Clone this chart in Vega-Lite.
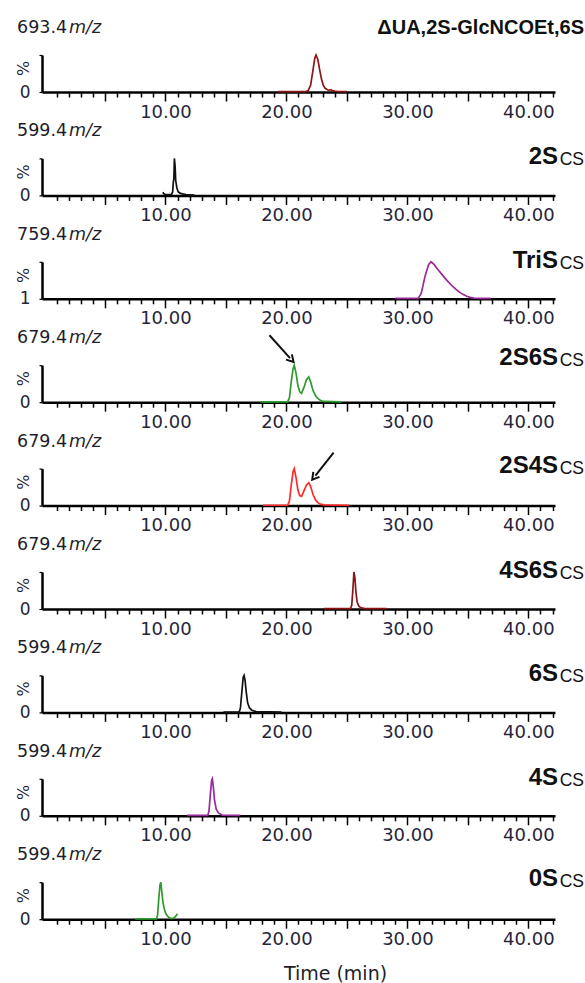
{
 "$schema": "https://vega.github.io/schema/vega-lite/v6.json",
 "padding": {"left": 15, "top": 17, "right": 0, "bottom": 0},
 "background": "white",
 "bounds": "flush",
 "spacing": 66.4,
 "datasets": {
  "p1": [{"t":19.3,"i":1},{"t":21.6,"i":1},{"t":21.8,"i":4},{"t":22.0,"i":18},{"t":22.2,"i":60},{"t":22.35,"i":92},{"t":22.45,"i":100},{"t":22.6,"i":88},{"t":22.75,"i":60},{"t":22.9,"i":35},{"t":23.05,"i":18},{"t":23.2,"i":10},{"t":23.4,"i":6},{"t":23.55,"i":5},{"t":23.7,"i":6},{"t":23.85,"i":3},{"t":24.1,"i":2},{"t":24.3,"i":1},{"t":25.0,"i":1}],
  "p2": [{"t":9.8,"i":9},{"t":9.85,"i":5},{"t":9.95,"i":3},{"t":10.5,"i":2},{"t":10.6,"i":10},{"t":10.65,"i":35},{"t":10.7,"i":45},{"t":10.74,"i":100},{"t":10.8,"i":80},{"t":10.85,"i":40},{"t":10.95,"i":20},{"t":11.05,"i":10},{"t":11.2,"i":6},{"t":11.4,"i":4},{"t":11.7,"i":2},{"t":12.4,"i":1}],
  "p3": [{"t":29.0,"i":1},{"t":30.9,"i":1},{"t":31.15,"i":15},{"t":31.45,"i":60},{"t":31.75,"i":92},{"t":31.95,"i":100},{"t":32.2,"i":93},{"t":32.5,"i":80},{"t":32.8,"i":68},{"t":33.1,"i":56},{"t":33.4,"i":45},{"t":33.7,"i":35},{"t":34.0,"i":26},{"t":34.3,"i":18},{"t":34.6,"i":12},{"t":34.9,"i":7},{"t":35.2,"i":4},{"t":35.5,"i":2},{"t":36.0,"i":1},{"t":36.9,"i":1}],
  "p4": [{"t":17.85,"i":1},{"t":20.1,"i":1},{"t":20.25,"i":12},{"t":20.4,"i":55},{"t":20.55,"i":90},{"t":20.65,"i":100},{"t":20.8,"i":78},{"t":20.95,"i":45},{"t":21.1,"i":28},{"t":21.25,"i":24},{"t":21.45,"i":40},{"t":21.65,"i":60},{"t":21.85,"i":68},{"t":22.0,"i":55},{"t":22.2,"i":32},{"t":22.4,"i":18},{"t":22.6,"i":10},{"t":22.8,"i":5},{"t":23.1,"i":2},{"t":24.57,"i":1}],
  "p5": [{"t":18.07,"i":1},{"t":20.1,"i":1},{"t":20.25,"i":12},{"t":20.4,"i":55},{"t":20.55,"i":92},{"t":20.65,"i":100},{"t":20.8,"i":75},{"t":20.95,"i":42},{"t":21.1,"i":27},{"t":21.25,"i":25},{"t":21.45,"i":40},{"t":21.65,"i":55},{"t":21.85,"i":62},{"t":22.0,"i":52},{"t":22.2,"i":30},{"t":22.4,"i":16},{"t":22.6,"i":8},{"t":22.8,"i":4},{"t":23.1,"i":2},{"t":25.2,"i":1}],
  "p6": [{"t":23.1,"i":1},{"t":25.3,"i":1},{"t":25.4,"i":10},{"t":25.5,"i":55},{"t":25.58,"i":100},{"t":25.66,"i":85},{"t":25.75,"i":45},{"t":25.85,"i":18},{"t":26.0,"i":7},{"t":26.2,"i":3},{"t":26.5,"i":1},{"t":28.3,"i":1}],
  "p7": [{"t":14.8,"i":1},{"t":16.1,"i":1},{"t":16.2,"i":12},{"t":16.33,"i":60},{"t":16.43,"i":95},{"t":16.5,"i":100},{"t":16.58,"i":88},{"t":16.68,"i":55},{"t":16.8,"i":25},{"t":16.95,"i":12},{"t":17.15,"i":6},{"t":17.5,"i":2},{"t":19.6,"i":1}],
  "p8": [{"t":11.8,"i":1},{"t":13.5,"i":1},{"t":13.6,"i":12},{"t":13.72,"i":60},{"t":13.82,"i":96},{"t":13.88,"i":100},{"t":13.96,"i":78},{"t":14.06,"i":42},{"t":14.2,"i":18},{"t":14.4,"i":7},{"t":14.7,"i":2},{"t":16.2,"i":1}],
  "p9": [{"t":7.5,"i":1},{"t":9.25,"i":1},{"t":9.35,"i":10},{"t":9.45,"i":55},{"t":9.55,"i":92},{"t":9.62,"i":100},{"t":9.7,"i":75},{"t":9.8,"i":45},{"t":9.9,"i":28},{"t":10.05,"i":14},{"t":10.25,"i":6},{"t":10.45,"i":2},{"t":10.65,"i":2},{"t":10.8,"i":6},{"t":11.0,"i":15}],
  "labels": [
   {"panel":1,"mz":"693.4","unit":"m/z","name":"ΔUA,2S-GlcNCOEt,6S","sub":""},
   {"panel":2,"mz":"599.4","unit":"m/z","name":"2S","sub":"CS"},
   {"panel":3,"mz":"759.4","unit":"m/z","name":"TriS","sub":"CS"},
   {"panel":4,"mz":"679.4","unit":"m/z","name":"2S6S","sub":"CS"},
   {"panel":5,"mz":"679.4","unit":"m/z","name":"2S4S","sub":"CS"},
   {"panel":6,"mz":"679.4","unit":"m/z","name":"4S6S","sub":"CS"},
   {"panel":7,"mz":"599.4","unit":"m/z","name":"6S","sub":"CS"},
   {"panel":8,"mz":"599.4","unit":"m/z","name":"4S","sub":"CS"},
   {"panel":9,"mz":"599.4","unit":"m/z","name":"0S","sub":"CS"}
  ],
  "arrows": [
   {"panel":4,"t1":18.6,"y1":181,"t2":20.3,"y2":119},
   {"panel":5,"t1":23.9,"y1":143,"t2":22.4,"y2":81}
  ]
 },
 "vconcat": [
  {"width": 513, "height": 37, "resolve": {"axis": {"x": "independent"}}, "layer": [
   {"data": {"name": "p1"}, "mark": {"type": "line", "color": "#8c1515", "strokeWidth": 1.7},
    "encoding": {
     "x": {"field": "t", "type": "quantitative", "scale": {"domain": [-0.2, 42.2], "nice": false, "zero": false},
      "axis": {"orient": "bottom", "values": [5,10,15,20,25,30,35,40], "tickSize": 9, "labelExpr": "datum.value % 10 === 0 ? format(datum.value, '.2f') : ''", "title": null}},
     "y": {"field": "i", "type": "quantitative", "scale": {"domain": [0, 100], "nice": false},
      "axis": {"values": [0,12.5,25,37.5,50,62.5,75,87.5,100], "labelExpr": "datum.value === 0 ? '0' : ''", "title": "%"}}}},
   {"data": {"name": "labels"}, "transform": [{"filter": "datum.panel === 1"}],
    "encoding": {"x": {"datum": -0.2, "type": "quantitative", "axis": {"orient": "bottom", "values": [1,2,3,4,6,7,8,9,11,12,13,14,16,17,18,19,21,22,23,24,26,27,28,29,31,32,33,34,36,37,38,39,41,42], "tickSize": 5, "labels": false, "domain": false, "title": null}}, "y": {"datum": 173}},
    "layer": [
     {"mark": {"type": "text", "align": "left", "baseline": "middle", "dx": -25, "font": "DejaVu Sans", "fontSize": 17.5, "color": "#1e1e2a"}, "encoding": {"text": {"field": "mz"}}},
     {"mark": {"type": "text", "align": "left", "baseline": "middle", "dx": 27, "font": "DejaVu Sans", "fontStyle": "italic", "fontSize": 17.5, "color": "#1e1e2a"}, "encoding": {"text": {"field": "unit"}}}
    ]},
   {"data": {"name": "labels"}, "transform": [{"filter": "datum.panel === 1"}],
    "mark": {"type": "text", "align": "right", "baseline": "middle", "dx": 29, "font": "Liberation Sans", "fontWeight": "bold", "fontSize": 20, "color": "#111"},
    "encoding": {"x": {"datum": 42.2, "type": "quantitative", "axis": null}, "y": {"datum": 173}, "text": {"field": "name"}}}
  ]},
  {"width": 513, "height": 37, "resolve": {"axis": {"x": "independent"}}, "layer": [
   {"data": {"name": "p2"}, "mark": {"type": "line", "color": "#111111", "strokeWidth": 1.7},
    "encoding": {
     "x": {"field": "t", "type": "quantitative", "scale": {"domain": [-0.2, 42.2], "nice": false, "zero": false},
      "axis": {"orient": "bottom", "values": [5,10,15,20,25,30,35,40], "tickSize": 9, "labelExpr": "datum.value % 10 === 0 ? format(datum.value, '.2f') : ''", "title": null}},
     "y": {"field": "i", "type": "quantitative", "scale": {"domain": [0, 100], "nice": false},
      "axis": {"values": [0,12.5,25,37.5,50,62.5,75,87.5,100], "labelExpr": "datum.value === 0 ? '0' : ''", "title": "%"}}}},
   {"data": {"name": "labels"}, "transform": [{"filter": "datum.panel === 2"}],
    "encoding": {"x": {"datum": -0.2, "type": "quantitative", "axis": {"orient": "bottom", "values": [1,2,3,4,6,7,8,9,11,12,13,14,16,17,18,19,21,22,23,24,26,27,28,29,31,32,33,34,36,37,38,39,41,42], "tickSize": 5, "labels": false, "domain": false, "title": null}}, "y": {"datum": 173}},
    "layer": [
     {"mark": {"type": "text", "align": "left", "baseline": "middle", "dx": -25, "font": "DejaVu Sans", "fontSize": 17.5, "color": "#1e1e2a"}, "encoding": {"text": {"field": "mz"}}},
     {"mark": {"type": "text", "align": "left", "baseline": "middle", "dx": 27, "font": "DejaVu Sans", "fontStyle": "italic", "fontSize": 17.5, "color": "#1e1e2a"}, "encoding": {"text": {"field": "unit"}}}
    ]},
   {"data": {"name": "labels"}, "transform": [{"filter": "datum.panel === 2"}],
    "encoding": {"x": {"datum": 42.2, "type": "quantitative", "axis": null}, "y": {"datum": 84}},
    "layer": [
     {"mark": {"type": "text", "align": "right", "baseline": "alphabetic", "dx": 3, "font": "Liberation Sans Narrow, Liberation Sans", "fontWeight": "bold", "fontSize": 24, "color": "#111"}, "encoding": {"text": {"field": "name"}}},
     {"mark": {"type": "text", "align": "right", "baseline": "alphabetic", "dx": 29, "dy": 1, "font": "Liberation Sans", "fontSize": 17.5, "color": "#111"}, "encoding": {"text": {"field": "sub"}}}
    ]}
  ]},
  {"width": 513, "height": 37, "resolve": {"axis": {"x": "independent"}}, "layer": [
   {"data": {"name": "p3"}, "mark": {"type": "line", "color": "#9a2a9a", "strokeWidth": 1.7},
    "encoding": {
     "x": {"field": "t", "type": "quantitative", "scale": {"domain": [-0.2, 42.2], "nice": false, "zero": false},
      "axis": {"orient": "bottom", "values": [5,10,15,20,25,30,35,40], "tickSize": 9, "labelExpr": "datum.value % 10 === 0 ? format(datum.value, '.2f') : ''", "title": null}},
     "y": {"field": "i", "type": "quantitative", "scale": {"domain": [0, 100], "nice": false},
      "axis": {"values": [0,12.5,25,37.5,50,62.5,75,87.5,100], "labelExpr": "datum.value === 0 ? '1' : ''", "title": "%"}}}},
   {"data": {"name": "labels"}, "transform": [{"filter": "datum.panel === 3"}],
    "encoding": {"x": {"datum": -0.2, "type": "quantitative", "axis": {"orient": "bottom", "values": [1,2,3,4,6,7,8,9,11,12,13,14,16,17,18,19,21,22,23,24,26,27,28,29,31,32,33,34,36,37,38,39,41,42], "tickSize": 5, "labels": false, "domain": false, "title": null}}, "y": {"datum": 173}},
    "layer": [
     {"mark": {"type": "text", "align": "left", "baseline": "middle", "dx": -25, "font": "DejaVu Sans", "fontSize": 17.5, "color": "#1e1e2a"}, "encoding": {"text": {"field": "mz"}}},
     {"mark": {"type": "text", "align": "left", "baseline": "middle", "dx": 27, "font": "DejaVu Sans", "fontStyle": "italic", "fontSize": 17.5, "color": "#1e1e2a"}, "encoding": {"text": {"field": "unit"}}}
    ]},
   {"data": {"name": "labels"}, "transform": [{"filter": "datum.panel === 3"}],
    "encoding": {"x": {"datum": 42.2, "type": "quantitative", "axis": null}, "y": {"datum": 84}},
    "layer": [
     {"mark": {"type": "text", "align": "right", "baseline": "alphabetic", "dx": 3, "font": "Liberation Sans Narrow, Liberation Sans", "fontWeight": "bold", "fontSize": 24, "color": "#111"}, "encoding": {"text": {"field": "name"}}},
     {"mark": {"type": "text", "align": "right", "baseline": "alphabetic", "dx": 29, "dy": 1, "font": "Liberation Sans", "fontSize": 17.5, "color": "#111"}, "encoding": {"text": {"field": "sub"}}}
    ]}
  ]},
  {"width": 513, "height": 37, "resolve": {"axis": {"x": "independent"}}, "layer": [
   {"data": {"name": "p4"}, "mark": {"type": "line", "color": "#2f9a2f", "strokeWidth": 1.7},
    "encoding": {
     "x": {"field": "t", "type": "quantitative", "scale": {"domain": [-0.2, 42.2], "nice": false, "zero": false},
      "axis": {"orient": "bottom", "values": [5,10,15,20,25,30,35,40], "tickSize": 9, "labelExpr": "datum.value % 10 === 0 ? format(datum.value, '.2f') : ''", "title": null}},
     "y": {"field": "i", "type": "quantitative", "scale": {"domain": [0, 100], "nice": false},
      "axis": {"values": [0,12.5,25,37.5,50,62.5,75,87.5,100], "labelExpr": "datum.value === 0 ? '0' : ''", "title": "%"}}}},
   {"data": {"name": "arrows"}, "transform": [{"filter": "datum.panel === 4"}],
    "mark": {"type": "rule", "color": "#111", "strokeWidth": 2},
    "encoding": {"x": {"field": "t1", "type": "quantitative", "axis": null}, "y": {"field": "y1", "type": "quantitative"}, "x2": {"field": "t2"}, "y2": {"field": "y2"}}},
   {"data": {"name": "arrows"}, "transform": [{"filter": "datum.panel === 4"}],
    "mark": {"type": "point", "shape": "M -0.75 0.3 L 0 -1 L 0.75 0.3", "filled": false, "stroke": "#111", "strokeWidth": 2, "size": 110, "angle": 138, "opacity": 1},
    "encoding": {"x": {"field": "t2", "type": "quantitative", "axis": null}, "y": {"field": "y2", "type": "quantitative"}}},
   {"data": {"name": "labels"}, "transform": [{"filter": "datum.panel === 4"}],
    "encoding": {"x": {"datum": -0.2, "type": "quantitative", "axis": {"orient": "bottom", "values": [1,2,3,4,6,7,8,9,11,12,13,14,16,17,18,19,21,22,23,24,26,27,28,29,31,32,33,34,36,37,38,39,41,42], "tickSize": 5, "labels": false, "domain": false, "title": null}}, "y": {"datum": 173}},
    "layer": [
     {"mark": {"type": "text", "align": "left", "baseline": "middle", "dx": -25, "font": "DejaVu Sans", "fontSize": 17.5, "color": "#1e1e2a"}, "encoding": {"text": {"field": "mz"}}},
     {"mark": {"type": "text", "align": "left", "baseline": "middle", "dx": 27, "font": "DejaVu Sans", "fontStyle": "italic", "fontSize": 17.5, "color": "#1e1e2a"}, "encoding": {"text": {"field": "unit"}}}
    ]},
   {"data": {"name": "labels"}, "transform": [{"filter": "datum.panel === 4"}],
    "encoding": {"x": {"datum": 42.2, "type": "quantitative", "axis": null}, "y": {"datum": 100}},
    "layer": [
     {"mark": {"type": "text", "align": "right", "baseline": "alphabetic", "dx": 3, "font": "Liberation Sans Narrow, Liberation Sans", "fontWeight": "bold", "fontSize": 24, "color": "#111"}, "encoding": {"text": {"field": "name"}}},
     {"mark": {"type": "text", "align": "right", "baseline": "alphabetic", "dx": 29, "dy": 1, "font": "Liberation Sans", "fontSize": 17.5, "color": "#111"}, "encoding": {"text": {"field": "sub"}}}
    ]}
  ]},
  {"width": 513, "height": 37, "resolve": {"axis": {"x": "independent"}}, "layer": [
   {"data": {"name": "p5"}, "mark": {"type": "line", "color": "#ff2a2a", "strokeWidth": 1.7},
    "encoding": {
     "x": {"field": "t", "type": "quantitative", "scale": {"domain": [-0.2, 42.2], "nice": false, "zero": false},
      "axis": {"orient": "bottom", "values": [5,10,15,20,25,30,35,40], "tickSize": 9, "labelExpr": "datum.value % 10 === 0 ? format(datum.value, '.2f') : ''", "title": null}},
     "y": {"field": "i", "type": "quantitative", "scale": {"domain": [0, 100], "nice": false},
      "axis": {"values": [0,12.5,25,37.5,50,62.5,75,87.5,100], "labelExpr": "datum.value === 0 ? '0' : ''", "title": "%"}}}},
   {"data": {"name": "arrows"}, "transform": [{"filter": "datum.panel === 5"}],
    "mark": {"type": "rule", "color": "#111", "strokeWidth": 2},
    "encoding": {"x": {"field": "t1", "type": "quantitative", "axis": null}, "y": {"field": "y1", "type": "quantitative"}, "x2": {"field": "t2"}, "y2": {"field": "y2"}}},
   {"data": {"name": "arrows"}, "transform": [{"filter": "datum.panel === 5"}],
    "mark": {"type": "point", "shape": "M -0.75 0.3 L 0 -1 L 0.75 0.3", "filled": false, "stroke": "#111", "strokeWidth": 2, "size": 110, "angle": 218, "opacity": 1},
    "encoding": {"x": {"field": "t2", "type": "quantitative", "axis": null}, "y": {"field": "y2", "type": "quantitative"}}},
   {"data": {"name": "labels"}, "transform": [{"filter": "datum.panel === 5"}],
    "encoding": {"x": {"datum": -0.2, "type": "quantitative", "axis": {"orient": "bottom", "values": [1,2,3,4,6,7,8,9,11,12,13,14,16,17,18,19,21,22,23,24,26,27,28,29,31,32,33,34,36,37,38,39,41,42], "tickSize": 5, "labels": false, "domain": false, "title": null}}, "y": {"datum": 173}},
    "layer": [
     {"mark": {"type": "text", "align": "left", "baseline": "middle", "dx": -25, "font": "DejaVu Sans", "fontSize": 17.5, "color": "#1e1e2a"}, "encoding": {"text": {"field": "mz"}}},
     {"mark": {"type": "text", "align": "left", "baseline": "middle", "dx": 27, "font": "DejaVu Sans", "fontStyle": "italic", "fontSize": 17.5, "color": "#1e1e2a"}, "encoding": {"text": {"field": "unit"}}}
    ]},
   {"data": {"name": "labels"}, "transform": [{"filter": "datum.panel === 5"}],
    "encoding": {"x": {"datum": 42.2, "type": "quantitative", "axis": null}, "y": {"datum": 89}},
    "layer": [
     {"mark": {"type": "text", "align": "right", "baseline": "alphabetic", "dx": 3, "font": "Liberation Sans Narrow, Liberation Sans", "fontWeight": "bold", "fontSize": 24, "color": "#111"}, "encoding": {"text": {"field": "name"}}},
     {"mark": {"type": "text", "align": "right", "baseline": "alphabetic", "dx": 29, "dy": 1, "font": "Liberation Sans", "fontSize": 17.5, "color": "#111"}, "encoding": {"text": {"field": "sub"}}}
    ]}
  ]},
  {"width": 513, "height": 37, "resolve": {"axis": {"x": "independent"}}, "layer": [
   {"data": {"name": "p6"}, "mark": {"type": "line", "color": "#8c1515", "strokeWidth": 1.7},
    "encoding": {
     "x": {"field": "t", "type": "quantitative", "scale": {"domain": [-0.2, 42.2], "nice": false, "zero": false},
      "axis": {"orient": "bottom", "values": [5,10,15,20,25,30,35,40], "tickSize": 9, "labelExpr": "datum.value % 10 === 0 ? format(datum.value, '.2f') : ''", "title": null}},
     "y": {"field": "i", "type": "quantitative", "scale": {"domain": [0, 100], "nice": false},
      "axis": {"values": [0,12.5,25,37.5,50,62.5,75,87.5,100], "labelExpr": "datum.value === 0 ? '0' : ''", "title": "%"}}}},
   {"data": {"name": "labels"}, "transform": [{"filter": "datum.panel === 6"}],
    "encoding": {"x": {"datum": -0.2, "type": "quantitative", "axis": {"orient": "bottom", "values": [1,2,3,4,6,7,8,9,11,12,13,14,16,17,18,19,21,22,23,24,26,27,28,29,31,32,33,34,36,37,38,39,41,42], "tickSize": 5, "labels": false, "domain": false, "title": null}}, "y": {"datum": 173}},
    "layer": [
     {"mark": {"type": "text", "align": "left", "baseline": "middle", "dx": -25, "font": "DejaVu Sans", "fontSize": 17.5, "color": "#1e1e2a"}, "encoding": {"text": {"field": "mz"}}},
     {"mark": {"type": "text", "align": "left", "baseline": "middle", "dx": 27, "font": "DejaVu Sans", "fontStyle": "italic", "fontSize": 17.5, "color": "#1e1e2a"}, "encoding": {"text": {"field": "unit"}}}
    ]},
   {"data": {"name": "labels"}, "transform": [{"filter": "datum.panel === 6"}],
    "encoding": {"x": {"datum": 42.2, "type": "quantitative", "axis": null}, "y": {"datum": 84}},
    "layer": [
     {"mark": {"type": "text", "align": "right", "baseline": "alphabetic", "dx": 3, "font": "Liberation Sans Narrow, Liberation Sans", "fontWeight": "bold", "fontSize": 24, "color": "#111"}, "encoding": {"text": {"field": "name"}}},
     {"mark": {"type": "text", "align": "right", "baseline": "alphabetic", "dx": 29, "dy": 1, "font": "Liberation Sans", "fontSize": 17.5, "color": "#111"}, "encoding": {"text": {"field": "sub"}}}
    ]}
  ]},
  {"width": 513, "height": 37, "resolve": {"axis": {"x": "independent"}}, "layer": [
   {"data": {"name": "p7"}, "mark": {"type": "line", "color": "#111111", "strokeWidth": 1.7},
    "encoding": {
     "x": {"field": "t", "type": "quantitative", "scale": {"domain": [-0.2, 42.2], "nice": false, "zero": false},
      "axis": {"orient": "bottom", "values": [5,10,15,20,25,30,35,40], "tickSize": 9, "labelExpr": "datum.value % 10 === 0 ? format(datum.value, '.2f') : ''", "title": null}},
     "y": {"field": "i", "type": "quantitative", "scale": {"domain": [0, 100], "nice": false},
      "axis": {"values": [0,12.5,25,37.5,50,62.5,75,87.5,100], "labelExpr": "datum.value === 0 ? '0' : ''", "title": "%"}}}},
   {"data": {"name": "labels"}, "transform": [{"filter": "datum.panel === 7"}],
    "encoding": {"x": {"datum": -0.2, "type": "quantitative", "axis": {"orient": "bottom", "values": [1,2,3,4,6,7,8,9,11,12,13,14,16,17,18,19,21,22,23,24,26,27,28,29,31,32,33,34,36,37,38,39,41,42], "tickSize": 5, "labels": false, "domain": false, "title": null}}, "y": {"datum": 173}},
    "layer": [
     {"mark": {"type": "text", "align": "left", "baseline": "middle", "dx": -25, "font": "DejaVu Sans", "fontSize": 17.5, "color": "#1e1e2a"}, "encoding": {"text": {"field": "mz"}}},
     {"mark": {"type": "text", "align": "left", "baseline": "middle", "dx": 27, "font": "DejaVu Sans", "fontStyle": "italic", "fontSize": 17.5, "color": "#1e1e2a"}, "encoding": {"text": {"field": "unit"}}}
    ]},
   {"data": {"name": "labels"}, "transform": [{"filter": "datum.panel === 7"}],
    "encoding": {"x": {"datum": 42.2, "type": "quantitative", "axis": null}, "y": {"datum": 84}},
    "layer": [
     {"mark": {"type": "text", "align": "right", "baseline": "alphabetic", "dx": 3, "font": "Liberation Sans Narrow, Liberation Sans", "fontWeight": "bold", "fontSize": 24, "color": "#111"}, "encoding": {"text": {"field": "name"}}},
     {"mark": {"type": "text", "align": "right", "baseline": "alphabetic", "dx": 29, "dy": 1, "font": "Liberation Sans", "fontSize": 17.5, "color": "#111"}, "encoding": {"text": {"field": "sub"}}}
    ]}
  ]},
  {"width": 513, "height": 37, "resolve": {"axis": {"x": "independent"}}, "layer": [
   {"data": {"name": "p8"}, "mark": {"type": "line", "color": "#9a2a9a", "strokeWidth": 1.7},
    "encoding": {
     "x": {"field": "t", "type": "quantitative", "scale": {"domain": [-0.2, 42.2], "nice": false, "zero": false},
      "axis": {"orient": "bottom", "values": [5,10,15,20,25,30,35,40], "tickSize": 9, "labelExpr": "datum.value % 10 === 0 ? format(datum.value, '.2f') : ''", "title": null}},
     "y": {"field": "i", "type": "quantitative", "scale": {"domain": [0, 100], "nice": false},
      "axis": {"values": [0,12.5,25,37.5,50,62.5,75,87.5,100], "labelExpr": "datum.value === 0 ? '0' : ''", "title": "%"}}}},
   {"data": {"name": "labels"}, "transform": [{"filter": "datum.panel === 8"}],
    "encoding": {"x": {"datum": -0.2, "type": "quantitative", "axis": {"orient": "bottom", "values": [1,2,3,4,6,7,8,9,11,12,13,14,16,17,18,19,21,22,23,24,26,27,28,29,31,32,33,34,36,37,38,39,41,42], "tickSize": 5, "labels": false, "domain": false, "title": null}}, "y": {"datum": 173}},
    "layer": [
     {"mark": {"type": "text", "align": "left", "baseline": "middle", "dx": -25, "font": "DejaVu Sans", "fontSize": 17.5, "color": "#1e1e2a"}, "encoding": {"text": {"field": "mz"}}},
     {"mark": {"type": "text", "align": "left", "baseline": "middle", "dx": 27, "font": "DejaVu Sans", "fontStyle": "italic", "fontSize": 17.5, "color": "#1e1e2a"}, "encoding": {"text": {"field": "unit"}}}
    ]},
   {"data": {"name": "labels"}, "transform": [{"filter": "datum.panel === 8"}],
    "encoding": {"x": {"datum": 42.2, "type": "quantitative", "axis": null}, "y": {"datum": 84}},
    "layer": [
     {"mark": {"type": "text", "align": "right", "baseline": "alphabetic", "dx": 3, "font": "Liberation Sans Narrow, Liberation Sans", "fontWeight": "bold", "fontSize": 24, "color": "#111"}, "encoding": {"text": {"field": "name"}}},
     {"mark": {"type": "text", "align": "right", "baseline": "alphabetic", "dx": 29, "dy": 1, "font": "Liberation Sans", "fontSize": 17.5, "color": "#111"}, "encoding": {"text": {"field": "sub"}}}
    ]}
  ]},
  {"width": 513, "height": 37, "resolve": {"axis": {"x": "independent"}}, "layer": [
   {"data": {"name": "p9"}, "mark": {"type": "line", "color": "#2f9a2f", "strokeWidth": 1.7},
    "encoding": {
     "x": {"field": "t", "type": "quantitative", "scale": {"domain": [-0.2, 42.2], "nice": false, "zero": false},
      "axis": {"orient": "bottom", "values": [5,10,15,20,25,30,35,40], "tickSize": 9, "labelExpr": "datum.value % 10 === 0 ? format(datum.value, '.2f') : ''", "title": "Time (min)", "titleX": 293, "titleY": 54, "titleAlign": "center", "titleBaseline": "middle", "titleFont": "DejaVu Sans", "titleFontSize": 19, "titleFontWeight": "normal", "titleColor": "#1e1e2a"}},
     "y": {"field": "i", "type": "quantitative", "scale": {"domain": [0, 100], "nice": false},
      "axis": {"values": [0,12.5,25,37.5,50,62.5,75,87.5,100], "labelExpr": "datum.value === 0 ? '0' : ''", "title": "%"}}}},
   {"data": {"name": "labels"}, "transform": [{"filter": "datum.panel === 9"}],
    "encoding": {"x": {"datum": -0.2, "type": "quantitative", "axis": {"orient": "bottom", "values": [1,2,3,4,6,7,8,9,11,12,13,14,16,17,18,19,21,22,23,24,26,27,28,29,31,32,33,34,36,37,38,39,41,42], "tickSize": 5, "labels": false, "domain": false, "title": null}}, "y": {"datum": 173}},
    "layer": [
     {"mark": {"type": "text", "align": "left", "baseline": "middle", "dx": -25, "font": "DejaVu Sans", "fontSize": 17.5, "color": "#1e1e2a"}, "encoding": {"text": {"field": "mz"}}},
     {"mark": {"type": "text", "align": "left", "baseline": "middle", "dx": 27, "font": "DejaVu Sans", "fontStyle": "italic", "fontSize": 17.5, "color": "#1e1e2a"}, "encoding": {"text": {"field": "unit"}}}
    ]},
   {"data": {"name": "labels"}, "transform": [{"filter": "datum.panel === 9"}],
    "encoding": {"x": {"datum": 42.2, "type": "quantitative", "axis": null}, "y": {"datum": 90}},
    "layer": [
     {"mark": {"type": "text", "align": "right", "baseline": "alphabetic", "dx": 3, "font": "Liberation Sans Narrow, Liberation Sans", "fontWeight": "bold", "fontSize": 24, "color": "#111"}, "encoding": {"text": {"field": "name"}}},
     {"mark": {"type": "text", "align": "right", "baseline": "alphabetic", "dx": 29, "dy": 1, "font": "Liberation Sans", "fontSize": 17.5, "color": "#111"}, "encoding": {"text": {"field": "sub"}}}
    ]}
  ]}
 ],
 "config": {
  "view": {"stroke": null},
  "axisX": {"domainWidth": 2.5, "domainColor": "#000", "tickColor": "#000", "tickWidth": 1.5, "labelFont": "DejaVu Sans", "labelFontSize": 18, "labelColor": "#26263a", "labelPadding": 2, "labelOverlap": false, "labelFlush": false, "grid": false},
  "axisY": {"domainWidth": 2.5, "domainColor": "#000", "tickColor": "#000", "tickWidth": 1.2, "tickSize": 3, "labelFont": "DejaVu Sans", "labelFontSize": 17, "labelColor": "#26263a", "labelPadding": 9, "labelOverlap": false, "labelFlush": false, "grid": false, "titleFont": "DejaVu Sans", "titleFontSize": 16, "titleFontWeight": "normal", "titleColor": "#26263a", "titleAngle": -90, "titleAlign": "center", "titleBaseline": "middle", "titleX": -18.5, "titleY": 13}
 }
}
